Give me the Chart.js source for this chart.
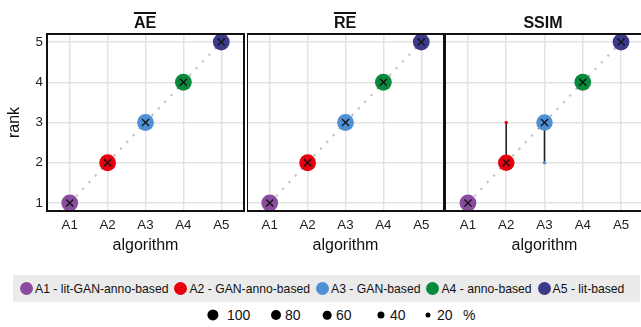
<!DOCTYPE html>
<html>
<head>
<meta charset="utf-8">
<script src="https://cdn.jsdelivr.net/npm/chart.js@4"></script>
<style>
body { margin: 0; width: 641px; height: 327px; overflow: hidden; background: #fff; position: relative;
       font-family: "Liberation Sans", Arial, sans-serif; }
canvas { position: absolute; top: 0; }
.ttl { position: absolute; top: 13px; font-size: 16px; font-weight: bold; line-height: 20px;
       transform: translateX(-50%); color: #111; }
.ttl.bar { text-decoration: overline; text-decoration-thickness: 1.5px; }
#legend { position: absolute; left: 13px; top: 275px; width: 627px; height: 27px; background: #ebebeb;
          display: flex; align-items: center; padding-left: 7px; box-sizing: border-box; font-size: 12.2px; color: #111; }
#legend .item { display: flex; align-items: center; margin-right: 6px; }
#legend .dot { width: 13px; height: 13px; border-radius: 50%; margin-right: 2px; }
#sizes { position: absolute; left: 0; top: 305px; height: 20px; width: 641px; font-size: 14px; color: #111; }
#sizes .dot { position: absolute; background: #000; border-radius: 50%; transform: translate(-50%, -50%); top: 10px; }
#sizes span { position: absolute; top: 2px; line-height: 16px; }
</style>
</head>
<body>
<canvas id="c1" width="246" height="260" style="left:0"></canvas>
<canvas id="c2" width="199" height="260" style="left:247px"></canvas>
<canvas id="c3" width="201" height="260" style="left:445px"></canvas>
<div class="ttl bar" style="left:145px">AE</div>
<div class="ttl bar" style="left:345px">RE</div>
<div class="ttl" style="left:543px">SSIM</div>
<div id="legend"></div>
<div id="sizes"></div>
<script>
const algorithms = ['A1', 'A2', 'A3', 'A4', 'A5'];
const algoNames = ['A1 - lit-GAN-anno-based', 'A2 - GAN-anno-based', 'A3 - GAN-based', 'A4 - anno-based', 'A5 - lit-based'];
const algoColors = ['#8a4c9e', '#e8000f', '#4f8fd3', '#078a3b', '#3b3a8a'];
const rankTicks = [1, 2, 3, 4, 5];

// share (%) of each rank 1..5, one row per algorithm
const aeShare = [[100, 0, 0, 0, 0], [0, 100, 0, 0, 0], [0, 0, 100, 0, 0], [0, 0, 0, 100, 0], [0, 0, 0, 0, 100]];
const reShare = [[100, 0, 0, 0, 0], [0, 100, 0, 0, 0], [0, 0, 100, 0, 0], [0, 0, 0, 100, 0], [0, 0, 0, 0, 100]];
const ssimShare = [[100, 0, 0, 0, 0], [0, 96, 4, 0, 0], [0, 4, 96, 0, 0], [0, 0, 0, 100, 0], [0, 0, 0, 0, 100]];
const aeMedian = [1, 2, 3, 4, 5];
const reMedian = [1, 2, 3, 4, 5];
const ssimMedian = [1, 2, 3, 4, 5];

const sizeLegend = [100, 80, 60, 40, 20];

const FONT = '"Liberation Sans", Arial, sans-serif';
const sizeOf = p => 8.4 * Math.sqrt(p / 100);

const panelBorder = {
    id: 'panelBorder',
    afterDraw(chart) {
        const {ctx, chartArea: a} = chart;
        ctx.save();
        ctx.strokeStyle = '#111';
        ctx.lineWidth = 2;
        ctx.strokeRect(a.left, a.top, a.right - a.left, a.bottom - a.top);
        ctx.restore();
    }
};

function buildDatasets(share, median) {
    const datasets = [];
    datasets.push({
        type: 'line',
        data: algorithms.map((a, i) => ({x: i + 1, y: rankTicks[i]})),
        borderColor: '#c2c2c2', borderWidth: 2.2, borderDash: [2.2, 7],
        pointRadius: 0, order: 4
    });
    share.forEach((row, i) => {
        const used = rankTicks.filter((r, k) => row[k] > 0);
        if (used.length > 1) {
            datasets.push({
                type: 'line',
                data: [{x: i + 1, y: Math.min(...used)}, {x: i + 1, y: Math.max(...used)}],
                borderColor: '#222', borderWidth: 1.6, pointRadius: 0, order: 3
            });
        }
    });
    share.forEach((row, i) => {
        datasets.push({
            type: 'bubble',
            data: rankTicks.map((r, k) => ({x: i + 1, y: r, r: sizeOf(row[k])})).filter(p => p.r > 0),
            backgroundColor: algoColors[i], borderWidth: 0, hoverBorderWidth: 0, order: 2
        });
    });
    datasets.push({
        type: 'scatter',
        data: median.map((m, i) => ({x: i + 1, y: m})),
        pointStyle: 'crossRot', pointRadius: 5, borderColor: '#111', borderWidth: 1.3, order: 1
    });
    return datasets;
}

function makePanel(id, share, median, first) {
    const ctx = document.getElementById(id).getContext('2d');
    return new Chart(ctx, {
        type: 'bubble',
        data: {datasets: buildDatasets(share, median)},
        options: {
            responsive: false,
            animation: false,
            events: [],
            layout: {padding: {top: 34, right: 2, left: 0, bottom: 0}, autoPadding: false},
            plugins: {legend: {display: false}, tooltip: {enabled: false}},
            scales: {
                x: {
                    type: 'linear', min: 0.4, max: 5.6,
                    ticks: {stepSize: 1, includeBounds: false, autoSkip: false, maxRotation: 0, padding: 6,
                        callback: v => Number.isInteger(v) ? algorithms[v - 1] : '',
                        font: {family: FONT, size: 13.3}, color: '#222'},
                    grid: {color: '#e3e3e3', lineWidth: 1.5, drawTicks: false},
                    border: {display: false},
                    title: {display: true, text: 'algorithm', color: '#111',
                        font: {family: FONT, size: 16}, padding: {top: 0, bottom: 4.4}},
                    afterFit: s => { s.height = 49; }
                },
                y: {
                    type: 'linear', min: 0.8, max: 5.2,
                    ticks: {display: first, stepSize: 1, includeBounds: false, padding: 4,
                        font: {family: FONT, size: 13.3}, color: '#222'},
                    grid: {color: '#e3e3e3', lineWidth: 1.5, drawTicks: false},
                    border: {display: false},
                    title: {display: first, text: 'rank', color: '#111',
                        font: {family: FONT, size: 16}, padding: {top: 5, bottom: 0}},
                    afterFit: s => { s.width = first ? 47 : 0; }
                }
            }
        },
        plugins: [panelBorder]
    });
}

makePanel('c1', aeShare, aeMedian, true);
makePanel('c2', reShare, reMedian, false);
makePanel('c3', ssimShare, ssimMedian, false);

// colour legend
const legendEl = document.getElementById('legend');
algoNames.forEach((name, i) => {
    const item = document.createElement('div');
    item.className = 'item';
    const dot = document.createElement('div');
    dot.className = 'dot';
    dot.style.background = algoColors[i];
    const label = document.createElement('span');
    label.textContent = name;
    item.appendChild(dot);
    item.appendChild(label);
    legendEl.appendChild(item);
});

// size legend
const sizesEl = document.getElementById('sizes');
const sizeCenters = [213, 276, 327, 381, 428];
sizeLegend.forEach((p, i) => {
    const dot = document.createElement('div');
    dot.className = 'dot';
    const d = 11.2 * Math.sqrt(p / 100);
    dot.style.width = d + 'px';
    dot.style.height = d + 'px';
    dot.style.left = sizeCenters[i] + 'px';
    const label = document.createElement('span');
    label.textContent = p;
    label.style.left = (sizeCenters[i] + (i === 0 ? 14 : 9)) + 'px';
    sizesEl.appendChild(dot);
    sizesEl.appendChild(label);
});
const pct = document.createElement('span');
pct.textContent = '%';
pct.style.left = '463px';
sizesEl.appendChild(pct);
</script>
</body>
</html>
